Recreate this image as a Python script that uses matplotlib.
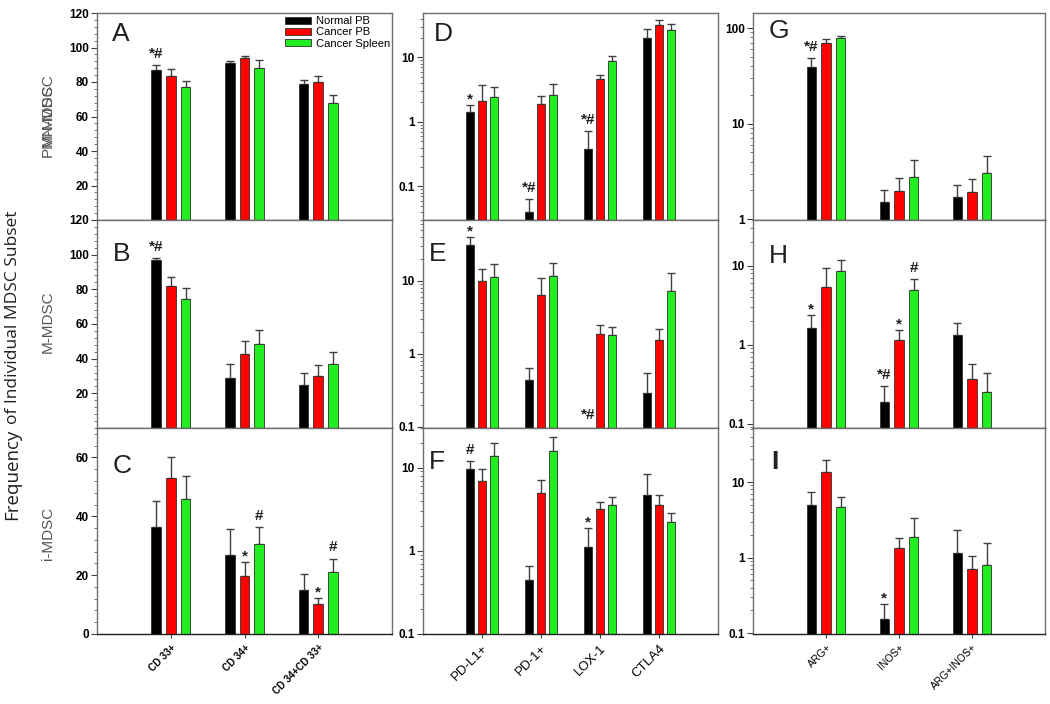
import numpy as np
import matplotlib
matplotlib.use("Agg")
import matplotlib.pyplot as plt
from matplotlib.ticker import FixedLocator, NullFormatter, LogLocator, AutoMinorLocator, FixedFormatter
from matplotlib.patches import Patch

# ---------------- data ----------------
series = ["Normal PB", "Cancer PB", "Cancer Spleen"]
colors = ["#000000", "#FF0000", "#22EE22"]

groups_col1 = ["CD 33+", "CD 34+", "CD 34+CD 33+"]
groups_col2 = ["PD-L1+", "PD-1+", "LOX-1", "CTLA4"]
groups_col3 = ["ARG+", "INOS+", "ARG+INOS+"]

row_labels = ["PMN-MDSC", "M-MDSC", "i-MDSC"]

# Panel A (PMN-MDSC, CD markers)
a_normal = [87.2, 90.8, 78.7]; a_normal_err = [2.4, 1.5, 2.5]
a_cancer = [83.7, 93.7, 80.1]; a_cancer_err = [3.6, 1.1, 3.2]
a_spleen = [77.0, 87.9, 67.8]; a_spleen_err = [3.4, 5.0, 4.6]
# Panel B (M-MDSC)
b_normal = [96.7, 28.7, 24.6]; b_normal_err = [1.4, 8.2, 7.3]
b_cancer = [81.7, 42.9, 30.0]; b_cancer_err = [5.4, 7.3, 6.3]
b_spleen = [74.4, 48.7, 36.9]; b_spleen_err = [6.2, 7.8, 7.1]
# Panel C (i-MDSC)
c_normal = [36.3, 26.8, 15.0]; c_normal_err = [8.8, 8.8, 5.3]
c_cancer = [52.9, 19.7, 10.2]; c_cancer_err = [7.3, 4.6, 2.1]
c_spleen = [46.0, 30.7, 20.9]; c_spleen_err = [7.8, 5.6, 4.7]

# Panel D (PMN-MDSC, checkpoint markers)
d_normal = [1.41, 0.0405, 0.38, 19.9]; d_normal_err = [0.43, 0.023, 0.34, 8.1]
d_cancer = [2.1, 1.88, 4.57, 31.8];    d_cancer_err = [1.67, 0.66, 0.70, 5.7]
d_spleen = [2.45, 2.64, 8.7, 26.5];    d_spleen_err = [1.02, 1.27, 2.0, 6.0]
# Panel E (M-MDSC)
e_normal = [30.6, 0.434, 0.05, 0.29];  e_normal_err = [8.9, 0.21, 0.02, 0.25]
e_cancer = [9.9, 6.28, 1.88, 1.54];    e_cancer_err = [4.7, 4.6, 0.6, 0.64]
e_spleen = [11.4, 11.7, 1.81, 7.28];   e_spleen_err = [5.6, 6.0, 0.54, 5.3]
# Panel F (i-MDSC)
f_normal = [9.7, 0.449, 1.12, 4.7];    f_normal_err = [2.2, 0.206, 0.78, 3.7]
f_cancer = [7.0, 4.92, 3.19, 3.6];     f_cancer_err = [2.6, 2.2, 0.71, 1.1]
f_spleen = [13.8, 15.8, 3.53, 2.25];   f_spleen_err = [6.2, 7.7, 0.96, 0.61]

# Panel G (PMN-MDSC, ARG / iNOS)
g_normal = [38.9, 1.51, 1.70]; g_normal_err = [9.8, 0.51, 0.60]
g_cancer = [70.6, 1.99, 1.92]; g_cancer_err = [6.0, 0.69, 0.70]
g_spleen = [77.9, 2.79, 3.02]; g_spleen_err = [4.5, 1.42, 1.55]
# Panel H (M-MDSC)
h_normal = [1.65, 0.19, 1.34]; h_normal_err = [0.74, 0.11, 0.56]
h_cancer = [5.45, 1.16, 0.37]; h_cancer_err = [3.8, 0.37, 0.20]
h_spleen = [8.67, 5.0, 0.249]; h_spleen_err = [3.2, 1.85, 0.187]
# Panel I (i-MDSC)
i_normal = [5.0, 0.154, 1.15]; i_normal_err = [2.3, 0.091, 1.14]
i_cancer = [13.7, 1.35, 0.70]; i_cancer_err = [5.7, 0.45, 0.34]
i_spleen = [4.7, 1.87, 0.80];  i_spleen_err = [1.67, 1.5, 0.75]

# significance marks: (group index, series index, text)
ann_A = [(0, 0, "*#")]
ann_B = [(0, 0, "*#")]
ann_C = [(1, 1, "*"), (1, 2, "#"), (2, 1, "*"), (2, 2, "#")]
ann_D = [(0, 0, "*"), (1, 0, "*#"), (2, 0, "*#")]
ann_E = [(0, 0, "*"), (2, 0, "*#")]
ann_F = [(0, 0, "#"), (2, 0, "*")]
ann_G = [(0, 0, "*#")]
ann_H = [(0, 0, "*"), (1, 0, "*#"), (1, 1, "*"), (1, 2, "#")]
ann_I = [(1, 0, "*")]

# ---------------- figure ----------------
W, H = 1050, 704
fig = plt.figure(figsize=(W / 100, H / 100), dpi=100)
plt.rcParams['font.family'] = ['Liberation Sans', 'DejaVu Sans']

def px_axes(x0, y0, x1, y1):
    return fig.add_axes([x0 / W, 1 - y1 / H, (x1 - x0) / W, (y1 - y0) / H])

col_x = [(97, 392), (423, 718), (753, 1045)]
row_y = [(13, 220), (220, 428), (428, 634)]

panels = [
    (0, 0, "A", groups_col1, [a_normal, a_cancer, a_spleen], [a_normal_err, a_cancer_err, a_spleen_err],
     False, (0, 120), [20, 40, 60, 80, 100, 120], ann_A, (112, 25)),
    (0, 1, "B", groups_col1, [b_normal, b_cancer, b_spleen], [b_normal_err, b_cancer_err, b_spleen_err],
     False, (0, 120), [20, 40, 60, 80, 100, 120], ann_B, (113, 245)),
    (0, 2, "C", groups_col1, [c_normal, c_cancer, c_spleen], [c_normal_err, c_cancer_err, c_spleen_err],
     False, (0, 70), [0, 20, 40, 60], ann_C, (113, 457)),
    (1, 0, "D", groups_col2, [d_normal, d_cancer, d_spleen], [d_normal_err, d_cancer_err, d_spleen_err],
     True, (0.03, 49), [0.1, 1, 10], ann_D, (434, 25)),
    (1, 1, "E", groups_col2, [e_normal, e_cancer, e_spleen], [e_normal_err, e_cancer_err, e_spleen_err],
     True, (0.096, 68), [0.1, 1, 10], ann_E, (429, 245)),
    (1, 2, "F", groups_col2, [f_normal, f_cancer, f_spleen], [f_normal_err, f_cancer_err, f_spleen_err],
     True, (0.1, 30), [0.1, 1, 10], ann_F, (429, 453)),
    (2, 0, "G", groups_col3, [g_normal, g_cancer, g_spleen], [g_normal_err, g_cancer_err, g_spleen_err],
     True, (0.98, 144), [1, 10, 100], ann_G, (769, 22)),
    (2, 1, "H", groups_col3, [h_normal, h_cancer, h_spleen], [h_normal_err, h_cancer_err, h_spleen_err],
     True, (0.088, 38), [0.1, 1, 10], ann_H, (769, 247)),
    (2, 2, "I", groups_col3, [i_normal, i_cancer, i_spleen], [i_normal_err, i_cancer_err, i_spleen_err],
     True, (0.097, 52), [0.1, 1, 10], ann_I, (771, 453)),
]

offsets = [-0.2, 0.0, 0.2]
bar_w = 0.13
xlabel_style = {0: dict(fontsize=7, fontweight='bold'),
                1: dict(fontsize=9.5, fontweight='normal'),
                2: dict(fontsize=7.5, fontweight='normal')}

axes = {}
for (c, r, letter, groups, means, errs, log, ylim, yticks, ann, lpos) in panels:
    x0, x1 = col_x[c]
    y0, y1 = row_y[r]
    ax = px_axes(x0, y0, x1, y1)
    axes[letter] = ax
    xs = np.arange(1, len(groups) + 1)
    if log:
        ax.set_yscale('log')
    for k in range(3):
        ax.bar(xs + offsets[k], means[k], width=bar_w, color=colors[k],
               edgecolor='#303030', linewidth=0.6, label=series[k], zorder=2)
        ax.errorbar(xs + offsets[k], means[k], yerr=[np.zeros(len(groups)), errs[k]],
                    fmt='none', ecolor='#404040', elinewidth=1.0, capsize=2.6,
                    capthick=1.0, zorder=1)
    ax.set_xlim(0, len(groups) + 1)
    ax.set_ylim(*ylim)
    ax.yaxis.set_major_locator(FixedLocator(yticks))
    ax.yaxis.set_major_formatter(FixedFormatter([("%g" % t) for t in yticks]))
    if log:
        ax.yaxis.set_minor_locator(LogLocator(base=10, subs=np.arange(2, 10)))
        ax.yaxis.set_minor_formatter(NullFormatter())
    else:
        ax.yaxis.set_minor_locator(AutoMinorLocator(5))
    ax.tick_params(axis='y', which='major', direction='out', length=4, width=0.8,
                   color='#404040', labelsize=8.5, pad=2)
    ax.tick_params(axis='y', which='minor', direction='out', length=2, width=0.6, color='#606060')
    for lab in ax.get_yticklabels():
        lab.set_fontweight('bold')
    ax.set_xticks(xs)
    if r == 2:
        ax.set_xticklabels(groups, rotation=45, ha='right', rotation_mode='anchor',
                           **xlabel_style[c])
        ax.tick_params(axis='x', direction='out', length=3, color='#404040', pad=3)
    else:
        ax.set_xticklabels([])
        ax.tick_params(axis='x', length=0)
    for s in ax.spines.values():
        s.set_color('#707070')
        s.set_linewidth(1.0)
    ax.spines['bottom'].set_color('#202020')
    ax.spines['bottom'].set_zorder(5)

    # significance marks
    for (g, sidx, txt) in ann:
        top = means[sidx][g] + errs[sidx][g]
        if top < ylim[0]:
            top = ylim[0] * (1.0 if not log else 1.07)
        dy = -1 if txt == "*" else 3
        ax.annotate(txt, xy=(xs[g] + offsets[sidx], top), xytext=(0, dy),
                    textcoords='offset points', ha='center', va='bottom',
                    fontsize=11, fontweight='bold', color='#202020', zorder=6)

    # panel letter
    fig.text(lpos[0] / W, 1 - (lpos[1] - 3) / H, letter, fontsize=19,
             fontweight='bold' if letter == 'I' else 'normal',
             ha='left', va='top', color='#202020')

# legend in panel A
handles = [Patch(facecolor=colors[k], edgecolor='#303030', linewidth=0.6, label=series[k])
           for k in range(3)]
axes["A"].legend(handles=handles, loc='upper right', bbox_to_anchor=(0.995, 0.985),
                 frameon=False, fontsize=8, labelspacing=0.12, handlelength=2.3,
                 handleheight=0.55, handletextpad=0.5, borderpad=0, borderaxespad=0)

# row labels (column 1); the PMN label overlaps a second label in the source figure
fig.text(48 / W, 1 - 115 / H, row_labels[0], rotation=90, ha='center', va='center',
         fontsize=11, color='#555555')
fig.text(48 / W, 1 - 115 / H, "M-MDSC", rotation=90, ha='center', va='center',
         fontsize=11, color='#555555')
fig.text(48 / W, 1 - 322 / H, row_labels[1], rotation=90, ha='center', va='center',
         fontsize=11, color='#555555')
fig.text(48 / W, 1 - 533 / H, row_labels[2], rotation=90, ha='center', va='center',
         fontsize=11, color='#555555')

# overall y label: larger "Frequency" followed by the rest
t1 = fig.text(12 / W, 1 - 520 / H, "Frequency", rotation=90, ha='center', va='bottom',
              fontsize=13.5, color='#202020', family=['Open Sans', 'DejaVu Sans'])
fig.canvas.draw()
bb = t1.get_window_extent()
t2 = fig.text(13 / W, (bb.y1 + 5) / H, "of Individual MDSC Subset", rotation=90, ha='center',
              va='bottom', fontsize=12.5, color='#202020', family=['Open Sans', 'DejaVu Sans'])

fig.savefig("out.png", dpi=100)
